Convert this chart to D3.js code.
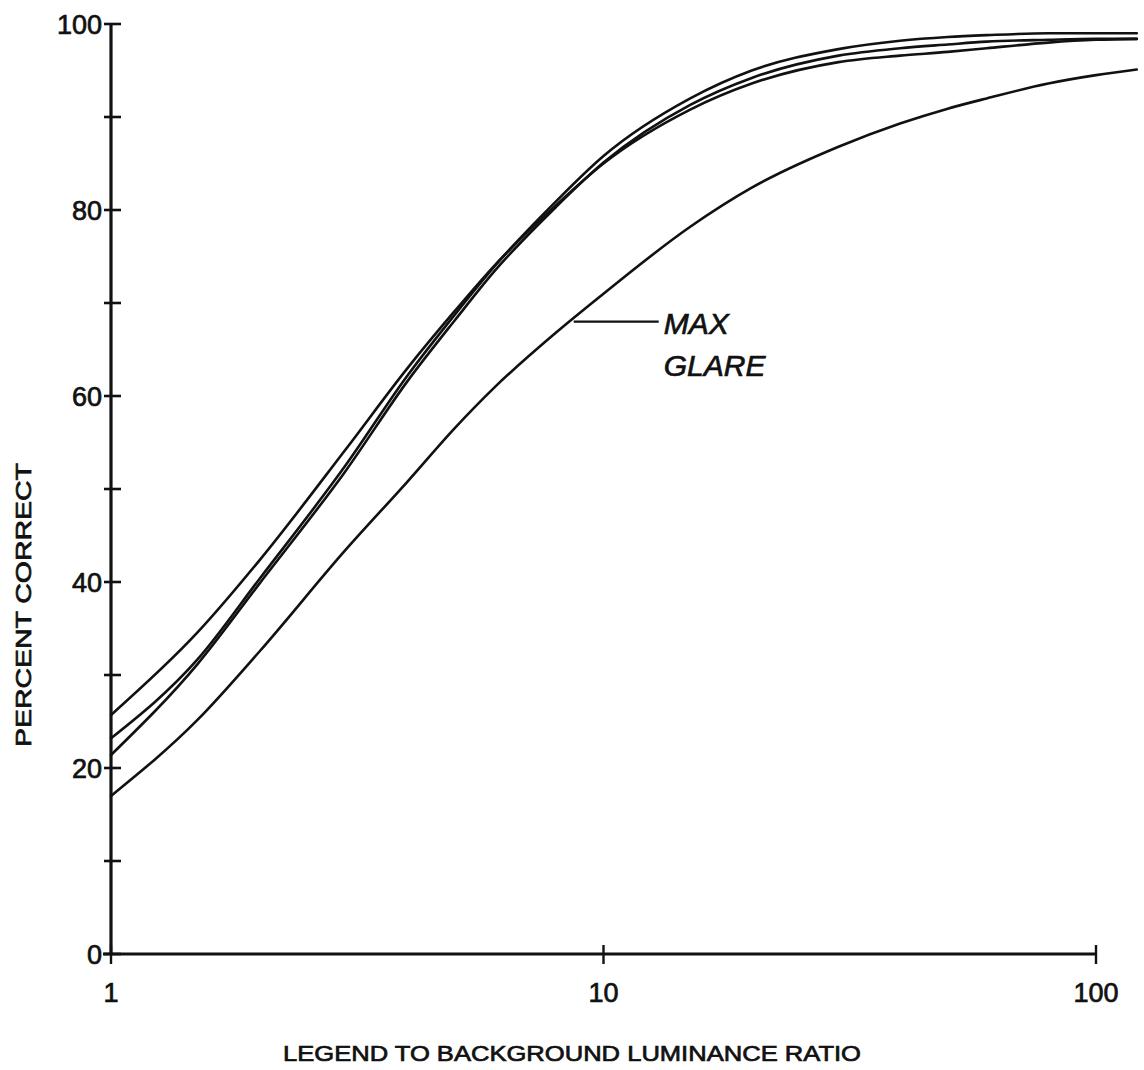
<!DOCTYPE html>
<html>
<head>
<meta charset="utf-8">
<script src="https://cdn.jsdelivr.net/npm/d3@7"></script>
<style>
  html, body { margin: 0; padding: 0; background: #fff; }
  svg { display: block; }
  text { font-family: "Liberation Sans", Arial, sans-serif; fill: #111; stroke: #111; stroke-width: 0.7; }
</style>
</head>
<body>
<svg id="chart" width="1144" height="1070"></svg>
<script>
// Luminance ratios at which the curves are sampled
const ratios = [1, 1.5, 2, 3, 4, 5, 6, 8, 10, 15, 20, 30, 40, 50, 60, 80, 100, 121];

// Percent correct for each condition
const seriesA = [23.2, 31.7, 40.3, 52.6, 62.2, 68.8, 73.9, 80.9, 85.8, 92.0, 95.0, 97.3, 98.2, 98.6, 98.8, 99.0, 99.0, 99.0];
const seriesB = [21.4, 31.2, 39.8, 52.0, 61.6, 68.2, 73.4, 80.3, 85.1, 91.3, 94.2, 96.6, 97.4, 97.8, 98.1, 98.3, 98.4, 98.4];
const seriesC = [25.7, 34.6, 42.3, 54.3, 63.0, 69.2, 74.0, 80.5, 85.0, 90.8, 93.6, 95.9, 96.6, 97.0, 97.4, 98.0, 98.3, 98.4];
const seriesMaxGlare = [17.0, 25.2, 32.5, 43.5, 50.8, 56.6, 60.9, 66.8, 71.0, 78.2, 82.4, 86.8, 89.3, 90.9, 92.0, 93.6, 94.5, 95.1];

// Axis ticks and labels
const xTickValues = [1, 10, 100];
const xTickLabels = ["1", "10", "100"];
const yMinorTicks = [0, 10, 20, 30, 40, 50, 60, 70, 80, 90, 100];
const yTickLabels = [0, 20, 40, 60, 80, 100];

// Callout on the lowest curve
const calloutAnchor = [8.7, 68];
const calloutLines = ["MAX", "GLARE"];

const svg = d3.select("#chart");

const x = d3.scaleLog().domain([1, 100]).range([111, 1096]);
const y = d3.scaleLinear().domain([0, 100]).range([954, 24]);

const ink = "#111";

// Curves
const allSeries = [seriesA, seriesB, seriesC, seriesMaxGlare];
const line = d3.line()
  .x(d => x(d[0]))
  .y(d => y(d[1]))
  .curve(d3.curveMonotoneX);

svg.append("g")
  .selectAll("path")
  .data(allSeries)
  .join("path")
  .attr("d", s => line(ratios.map((r, i) => [r, s[i]])))
  .attr("fill", "none")
  .attr("stroke", ink)
  .attr("stroke-width", 2.6)
  .attr("stroke-linecap", "round");

// Y axis: line with crossing ticks every 10, labels every 20
const yAxis = svg.append("g");
yAxis.append("line")
  .attr("x1", x(1)).attr("x2", x(1))
  .attr("y1", y(0)).attr("y2", y(100))
  .attr("stroke", ink).attr("stroke-width", 3.2);
yAxis.selectAll("line.tick")
  .data(yMinorTicks)
  .join("line")
  .attr("class", "tick")
  .attr("x1", x(1) - 7).attr("x2", x(1) + 10)
  .attr("y1", d => y(d)).attr("y2", d => y(d))
  .attr("stroke", ink).attr("stroke-width", 2.6);
yAxis.selectAll("text")
  .data(yTickLabels)
  .join("text")
  .attr("x", x(1) - 9)
  .attr("y", d => y(d))
  .attr("dy", "0.36em")
  .attr("text-anchor", "end")
  .attr("font-size", 27)
  .text(d => d);

// X axis: line to 100 with crossing ticks at each decade
const xAxis = svg.append("g");
xAxis.append("line")
  .attr("x1", x(1) - 8).attr("x2", x(100))
  .attr("y1", y(0)).attr("y2", y(0))
  .attr("stroke", ink).attr("stroke-width", 3.2);
xAxis.selectAll("line.tick")
  .data(xTickValues)
  .join("line")
  .attr("class", "tick")
  .attr("x1", d => x(d)).attr("x2", d => x(d))
  .attr("y1", y(0) - 9).attr("y2", y(0) + 10)
  .attr("stroke", ink).attr("stroke-width", 2.4);
xAxis.selectAll("text")
  .data(xTickValues)
  .join("text")
  .attr("x", d => x(d))
  .attr("y", y(0) + 48)
  .attr("text-anchor", "middle")
  .attr("font-size", 27)
  .text((d, i) => xTickLabels[i]);

// Axis titles
svg.append("text")
  .attr("x", 572)
  .attr("y", 1061)
  .attr("text-anchor", "middle")
  .attr("font-size", 22)
  .attr("textLength", 578)
  .attr("lengthAdjust", "spacingAndGlyphs")
  .text("LEGEND TO BACKGROUND LUMINANCE RATIO");

svg.append("text")
  .attr("transform", "translate(31,605) rotate(-90)")
  .attr("text-anchor", "middle")
  .attr("font-size", 22)
  .attr("textLength", 284)
  .attr("lengthAdjust", "spacingAndGlyphs")
  .text("PERCENT CORRECT");

// Callout leader and label
const cx = x(calloutAnchor[0]);
const cy = y(calloutAnchor[1]);
svg.append("line")
  .attr("x1", cx).attr("x2", cx + 85)
  .attr("y1", cy).attr("y2", cy)
  .attr("stroke", ink).attr("stroke-width", 2.2);
svg.append("g")
  .selectAll("text")
  .data(calloutLines)
  .join("text")
  .attr("x", cx + 90)
  .attr("y", (d, i) => cy + 12 + i * 42)
  .attr("font-size", 30)
  .attr("font-style", "italic")
  .text(d => d);
</script>
</body>
</html>
